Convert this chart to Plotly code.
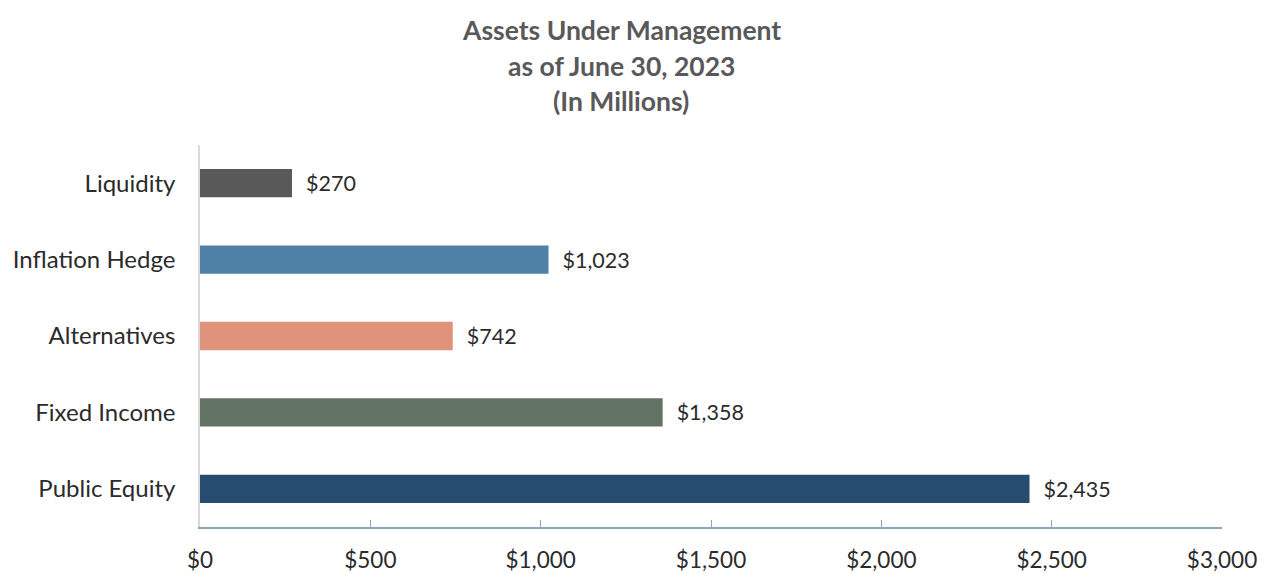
import plotly.graph_objects as go

categories = ["Liquidity", "Inflation Hedge", "Alternatives", "Fixed Income", "Public Equity"]
values = [270, 1023, 742, 1358, 2435]
colors = ["#595959", "#4E81A5", "#E0937A", "#637363", "#264C70"]
tick_vals = [0, 500, 1000, 1500, 2000, 2500, 3000]
tick_text = ["$0", "$500", "$1,000", "$1,500", "$2,000", "$2,500", "$3,000"]
title_lines = ["Assets Under Management", "as of June 30, 2023", "(In Millions)"]

FONT = "Lato, 'Open Sans', sans-serif"
TXT = "#2b2b2b"
W, H = 1262, 574
ML, MR, MT, MB = 200, 40, 145, 47
PW, PH = W - ML - MR, H - MT - MB

fig = go.Figure(go.Bar(
    x=values,
    y=categories,
    orientation="h",
    marker=dict(color=colors, line=dict(width=0)),
    text=["\u00a0\u00a0$" + f"{v:,}" for v in values],
    textposition="outside",
    cliponaxis=False,
    textfont=dict(family=FONT, size=21.5, color=TXT),
    hoverinfo="skip",
))

title_y_px = [30, 66, 101]
title_x_px = 621
annotations = [
    dict(
        text=line,
        xref="paper", yref="paper",
        x=(title_x_px - ML) / PW,
        y=1 + (MT - ypx) / PH,
        xanchor="center", yanchor="middle",
        showarrow=False,
        font=dict(family=FONT, size=26.5, color="#595959", weight="bold"),
    )
    for line, ypx in zip(title_lines, title_y_px)
]

fig.update_layout(
    width=W,
    height=H,
    margin=dict(l=ML, r=MR, t=MT, b=MB, autoexpand=False),
    paper_bgcolor="white",
    plot_bgcolor="white",
    bargap=0.63,
    showlegend=False,
    annotations=annotations,
    xaxis=dict(
        range=[0, 3000],
        tickvals=tick_vals,
        ticktext=tick_text,
        showgrid=False,
        zeroline=False,
        showline=True,
        linecolor="#8DA6BE",
        linewidth=1.5,
        ticks="inside",
        ticklen=7,
        tickcolor="#8DA6BE",
        tickfont=dict(family=FONT, size=22.5, color=TXT),
        ticklabelstandoff=12,
        automargin=False,
        fixedrange=True,
    ),
    yaxis=dict(
        categoryorder="array",
        categoryarray=categories[::-1],
        showgrid=False,
        zeroline=False,
        showline=True,
        linecolor="#D9D9D9",
        linewidth=1.5,
        ticks="",
        tickfont=dict(family=FONT, size=24, color=TXT),
        ticklabelstandoff=18,
        automargin=False,
        fixedrange=True,
    ),
)

fig.write_html(
    "out.html",
    config={"displayModeBar": False},
    post_script="document.body.style.margin='0';document.body.style.overflow='hidden';",
)
